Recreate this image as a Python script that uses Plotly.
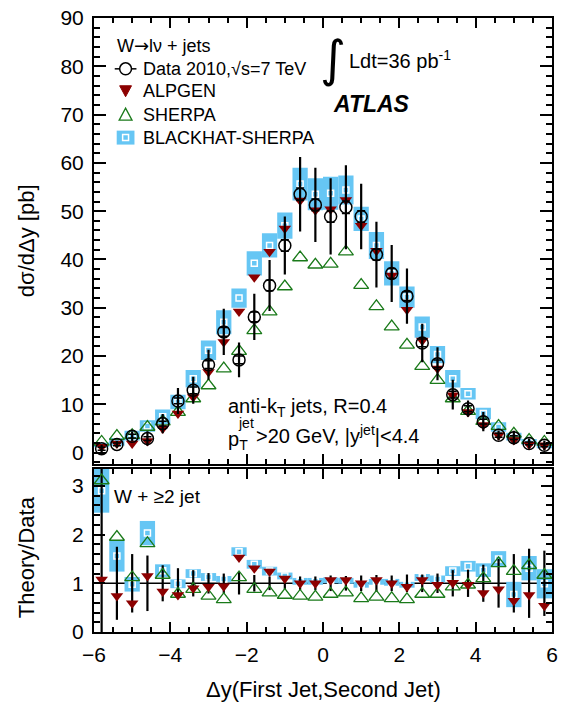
import numpy as np
import plotly.graph_objects as go

# ---------------- data ----------------
dy_centers = [-5.8, -5.4, -5.0, -4.6, -4.2, -3.8, -3.4, -3.0, -2.6, -2.2,
              -1.8, -1.4, -1.0, -0.6, -0.2, 0.2, 0.6, 1.0, 1.4, 1.8,
              2.2, 2.6, 3.0, 3.4, 3.8, 4.2, 4.6, 5.0, 5.4, 5.8]

data_xs = [0.8, 1.7, 3.4, 2.9, 6.0, 10.7, 12.9, 18.2, 25.0, 19.2,
           28.1, 34.6, 42.9, 53.5, 51.3, 48.9, 50.8, 48.9, 41.0, 37.1,
           32.4, 22.7, 18.4, 12.0, 9.1, 6.4, 3.6, 3.1, 1.9, 1.5]
data_tot_err = [0.8, 0.7, 1.0, 1.5, 2.0, 2.7, 2.8, 3.1, 4.8, 3.6,
                4.8, 5.3, 6.0, 7.7, 7.7, 7.9, 8.7, 6.8, 6.8, 5.9,
                5.7, 4.0, 3.4, 3.1, 1.7, 2.0, 1.0, 1.4, 1.0, 1.0]
data_stat_err = [0.3, 0.3, 0.4, 0.4, 0.5, 0.6, 0.7, 0.8, 0.9, 0.8,
                 1.0, 1.1, 1.2, 1.3, 1.2, 1.2, 1.3, 1.2, 1.1, 1.0,
                 0.9, 0.8, 0.8, 0.7, 0.6, 0.5, 0.4, 0.4, 0.3, 0.3]

alpgen_xs = [1.2, 1.9, 1.9, 2.4, 5.0, 8.1, 11.5, 16.7, 22.9, 29.2,
             36.3, 41.6, 46.4, 52.2, 50.2, 50.4, 52.3, 47.0, 41.8, 36.7,
             29.6, 23.2, 17.4, 11.9, 8.4, 5.7, 3.6, 2.6, 1.7, 1.5]
sherpa_xs = [2.2, 3.4, 3.6, 5.3, 6.4, 8.4, 11.2, 13.9, 17.4, 21.0,
             25.3, 29.2, 34.4, 40.4, 38.9, 39.1, 41.6, 34.7, 30.3, 26.1,
             22.3, 17.9, 15.0, 11.2, 8.6, 6.5, 5.5, 3.9, 2.6, 2.2]
blackhat_xs = [1.6, 2.2, 3.5, 5.5, 7.4, 10.5, 15.3, 21.2, 27.0, 32.0,
               39.2, 42.9, 47.0, 55.6, 53.5, 53.7, 54.4, 48.4, 42.9, 37.1,
               32.2, 26.0, 20.3, 15.3, 12.2, 8.1, 5.3, 3.3, 2.2, 1.5]
blackhat_err = [0.5, 0.8, 1.0, 1.2, 1.5, 1.5, 1.8, 2.0, 2.5, 2.0,
                2.5, 2.5, 2.7, 3.4, 3.3, 3.4, 3.0, 2.5, 2.8, 2.5,
                2.2, 2.2, 1.8, 1.8, 1.2, 1.2, 1.0, 0.8, 0.6, 0.6]

ratio_data_err = [2.5, 0.75, 0.6, 0.57, 0.37, 0.31, 0.27, 0.21, 0.2, 0.23,
                  0.17, 0.14, 0.12, 0.14, 0.14, 0.16, 0.15, 0.16, 0.17, 0.16,
                  0.18, 0.18, 0.2, 0.27, 0.28, 0.38, 0.5, 0.6, 0.71, 0.67]
ratio_alpgen = [1.08, 0.74, 0.59, 1.15, 0.83, 0.76, 0.90, 0.93, 0.94, 1.53,
                1.31, 1.24, 1.10, 1.00, 1.00, 1.07, 1.07, 1.00, 1.07, 1.00,
                0.93, 1.07, 0.97, 1.01, 0.97, 0.80, 0.88, 0.64, 0.76, 0.54]
ratio_sherpa = [3.11, 1.95, 1.12, 1.82, 1.17, 0.78, 0.88, 0.74, 0.67, 1.12,
                0.88, 0.81, 0.76, 0.74, 0.72, 0.78, 0.81, 0.69, 0.72, 0.69,
                0.67, 0.78, 0.78, 0.93, 0.97, 1.10, 1.41, 1.25, 1.37, 1.17]
ratio_blackhat = [2.9, 1.56, 0.98, 2.03, 1.26, 0.99, 1.2, 1.13, 1.09, 1.65,
                  1.39, 1.25, 1.15, 1.04, 1.04, 1.06, 1.05, 0.97, 1.03, 1.02,
                  0.97, 1.12, 1.09, 1.25, 1.35, 1.27, 1.50, 0.77, 1.31, 0.99]
ratio_blackhat_err = [0.45, 0.32, 0.15, 0.25, 0.13, 0.09, 0.09, 0.08, 0.06, 0.09,
                      0.09, 0.09, 0.07, 0.07, 0.07, 0.06, 0.06, 0.06, 0.06, 0.07,
                      0.06, 0.07, 0.07, 0.10, 0.11, 0.14, 0.16, 0.26, 0.25, 0.30]
ratio_ones = [1.0] * len(dy_centers)
bin_width = 0.4

legend_labels = ["Data 2010,\u221as=7 TeV", "ALPGEN", "SHERPA", "BLACKHAT-SHERPA"]

# ---------------- style ----------------
FONT = "Liberation Sans"
BLUE = "#66c6f4"
RED = "#8c0000"
GREEN = "#1a7a1a"

W, H = 564, 706
ML, MR, MT, MB = 94, 6, 16, 74
PW, PH = W - ML - MR, H - MT - MB


def px(xp):
    return (xp - ML) / PW


def py(yp):
    return (H - MB - yp) / PH


fig = go.Figure()

bh = np.array(blackhat_xs)
bhe = np.array(blackhat_err)
rbh = np.array(ratio_blackhat)
rbhe = np.array(ratio_blackhat_err)

# ---- top panel ----
fig.add_trace(go.Bar(x=dy_centers, y=2 * bhe, base=bh - bhe, width=bin_width,
                     marker=dict(color=BLUE, line=dict(width=0)),
                     name=legend_labels[3], xaxis="x", yaxis="y"))
fig.add_trace(go.Scatter(x=dy_centers, y=blackhat_xs, mode="markers",
                         marker=dict(symbol="square-open", size=6, color="white",
                                     line=dict(width=1.5, color="white")),
                         xaxis="x", yaxis="y"))
fig.add_trace(go.Scatter(x=dy_centers, y=sherpa_xs, mode="markers",
                         marker=dict(symbol="triangle-up-open", size=13, color=GREEN,
                                     line=dict(width=1.3, color=GREEN)),
                         name=legend_labels[2], xaxis="x", yaxis="y"))
fig.add_trace(go.Scatter(x=dy_centers, y=alpgen_xs, mode="markers",
                         marker=dict(symbol="triangle-down", size=11, color=RED),
                         name=legend_labels[1], xaxis="x", yaxis="y"))
fig.add_trace(go.Scatter(x=dy_centers, y=data_xs, mode="markers",
                         marker=dict(symbol="circle-open", size=1, color="black", opacity=0),
                         error_y=dict(type="data", array=data_stat_err, color="black",
                                      thickness=1.5, width=4),
                         xaxis="x", yaxis="y"))
fig.add_trace(go.Scatter(x=dy_centers, y=data_xs, mode="markers",
                         marker=dict(symbol="circle-open", size=12, color="black",
                                     line=dict(width=1.5, color="black")),
                         error_y=dict(type="data", array=data_tot_err, color="black",
                                      thickness=2.2, width=0),
                         name=legend_labels[0], xaxis="x", yaxis="y"))

# ---- ratio panel ----
fig.add_trace(go.Bar(x=dy_centers, y=2 * rbhe, base=rbh - rbhe, width=bin_width,
                     marker=dict(color=BLUE, line=dict(width=0)),
                     xaxis="x2", yaxis="y2"))
fig.add_trace(go.Scatter(x=dy_centers, y=ratio_blackhat, mode="markers",
                         marker=dict(symbol="square-open", size=6, color="white",
                                     line=dict(width=1.5, color="white")),
                         xaxis="x2", yaxis="y2"))
fig.add_trace(go.Scatter(x=dy_centers, y=ratio_ones, mode="markers",
                         marker=dict(size=1, color="black", opacity=0),
                         error_y=dict(type="data", array=ratio_data_err, color="black",
                                      thickness=2.2, width=0),
                         xaxis="x2", yaxis="y2"))
fig.add_trace(go.Scatter(x=dy_centers, y=ratio_sherpa, mode="markers",
                         marker=dict(symbol="triangle-up-open", size=13, color=GREEN,
                                     line=dict(width=1.3, color=GREEN)),
                         xaxis="x2", yaxis="y2"))
fig.add_trace(go.Scatter(x=dy_centers, y=ratio_alpgen, mode="markers",
                         marker=dict(symbol="triangle-down", size=11, color=RED),
                         xaxis="x2", yaxis="y2"))

shapes = [dict(type="line", xref="x2", yref="y2", x0=-6, x1=6, y0=1, y1=1,
               line=dict(color="black", width=1.5), layer="below")]

top_dom = [(H - MB - 463.3) / PH, 1.0]
bot_dom = [0.0, (H - MB - 468.3) / PH]

common_x = dict(range=[-6, 6], showline=True, linecolor="black", linewidth=2,
                mirror="allticks", ticks="inside", ticklen=10, tickwidth=1.5,
                tickcolor="black", dtick=2, tick0=-6, showgrid=False, zeroline=False,
                minor=dict(ticks="inside", ticklen=5, dtick=0.5, tick0=-6,
                           tickcolor="black", tickwidth=1.5, showgrid=False))

fig.update_layout(
    width=W, height=H,
    margin=dict(l=ML, r=MR, t=MT, b=MB),
    paper_bgcolor="white", plot_bgcolor="white",
    font=dict(family=FONT, size=20, color="black"),
    barmode="overlay",
    showlegend=False,
    hovermode=False,
    xaxis=dict(domain=[0, 1], anchor="y", showticklabels=False, **common_x),
    xaxis2=dict(domain=[0, 1], anchor="y2", showticklabels=True,
                tickfont=dict(size=21), ticklabelstandoff=3, **common_x),
    yaxis=dict(domain=top_dom, anchor="x", range=[-2.33, 90], showline=True,
               linecolor="black", linewidth=2, mirror="allticks", ticks="inside",
               ticklen=12, tickwidth=1.5, tickcolor="black", dtick=10, tick0=0,
               showgrid=False, zeroline=False, tickfont=dict(size=21),
               ticklabelstandoff=4,
               minor=dict(ticks="inside", ticklen=6, dtick=2, tick0=0,
                          tickcolor="black", tickwidth=1.5, showgrid=False)),
    yaxis2=dict(domain=bot_dom, anchor="x2", range=[0, 3.35], showline=True,
                linecolor="black", linewidth=2, mirror="allticks", ticks="inside",
                ticklen=11, tickwidth=1.5, tickcolor="black", dtick=1, tick0=0,
                showgrid=False, zeroline=False, tickfont=dict(size=21),
                ticklabelstandoff=4,
                minor=dict(ticks="inside", ticklen=6, dtick=0.2, tick0=0,
                           tickcolor="black", tickwidth=1.5, showgrid=False)),
)

ann = []


def add_text(text, x, y, size=20, xanchor="left", yanchor="middle", angle=0, font=FONT):
    ann.append(dict(text=text, x=x, y=y, xref="paper", yref="paper",
                    xanchor=xanchor, yanchor=yanchor, showarrow=False,
                    textangle=angle, font=dict(family=font, size=size, color="black")))


# ---- hand-drawn legend (keys in pixel layout) ----
def pshape(kind, **kw):
    d = dict(type=kind, xref="paper", yref="paper", layer="above")
    d.update(kw)
    shapes.append(d)


def ppath(points):
    return "M " + " L ".join(f"{px(a):.5f},{py(b):.5f}" for a, b in points) + " Z"


kx = 126
rows_y = [67, 89, 113, 136]
# data key: circle + horizontal line
pshape("line", x0=px(kx - 11), x1=px(kx + 11), y0=py(rows_y[0]), y1=py(rows_y[0]),
       line=dict(color="black", width=1.5))
pshape("circle", x0=px(kx - 6), x1=px(kx + 6), y0=py(rows_y[0] - 6), y1=py(rows_y[0] + 6),
       line=dict(color="black", width=1.5), fillcolor="white")
# alpgen key
r = rows_y[1]
pshape("path", path=ppath([(kx - 6, r - 5), (kx + 6, r - 5), (kx, r + 6)]),
       fillcolor=RED, line=dict(color=RED, width=1))
# sherpa key
r = rows_y[2]
pshape("path", path=ppath([(kx - 6.5, r + 5.5), (kx + 6.5, r + 5.5), (kx, r - 6.5)]),
       fillcolor="rgba(0,0,0,0)", line=dict(color=GREEN, width=1.3))
# blackhat key
r = rows_y[3]
pshape("rect", x0=px(kx - 9), x1=px(kx + 9), y0=py(r - 7), y1=py(r + 7),
       fillcolor=BLUE, line=dict(width=0))
pshape("rect", x0=px(kx - 3), x1=px(kx + 3), y0=py(r - 3), y1=py(r + 3),
       fillcolor="rgba(0,0,0,0)", line=dict(color="white", width=1.5))

add_text("W<span style=\"font-family:'DejaVu Sans'\">\u2192</span>l\u03bd + jets",
         px(115), py(44), size=18)
for lab, ry in zip(legend_labels, rows_y):
    add_text(lab, px(142), py(ry), size=18)

add_text("\u222b", px(336), py(57), size=50, xanchor="center", font="DejaVu Sans")
add_text("Ldt=36 pb<sup>-1</sup>", px(350), py(58), size=20)
add_text("<b><i>ATLAS</i></b>", px(334), py(102), size=23)
add_text("anti-k<sub>T</sub> jets, R=0.4", px(228), py(407), size=20)
add_text("p<sub>T</sub>", px(228), py(440), size=20)
add_text("jet", px(238), py(422), size=14)
add_text(">20 GeV, |y<sup>jet</sup>|<4.4", px(256), py(434), size=20)
add_text("W + \u22652 jet", px(112), py(496), size=19)
add_text("d\u03c3/d\u0394y [pb]", px(25), py(239), size=22, xanchor="center", angle=-90)
add_text("Theory/Data", px(25), py(557), size=22, xanchor="center", angle=-90)
add_text("\u0394y(First Jet,Second Jet)", px(326), py(690), size=22, xanchor="center")

fig.update_layout(annotations=ann, shapes=shapes)
fig.write_html("out.html", config={"displayModeBar": False},
               post_script="document.body.style.margin='0';document.body.style.padding='0';")
